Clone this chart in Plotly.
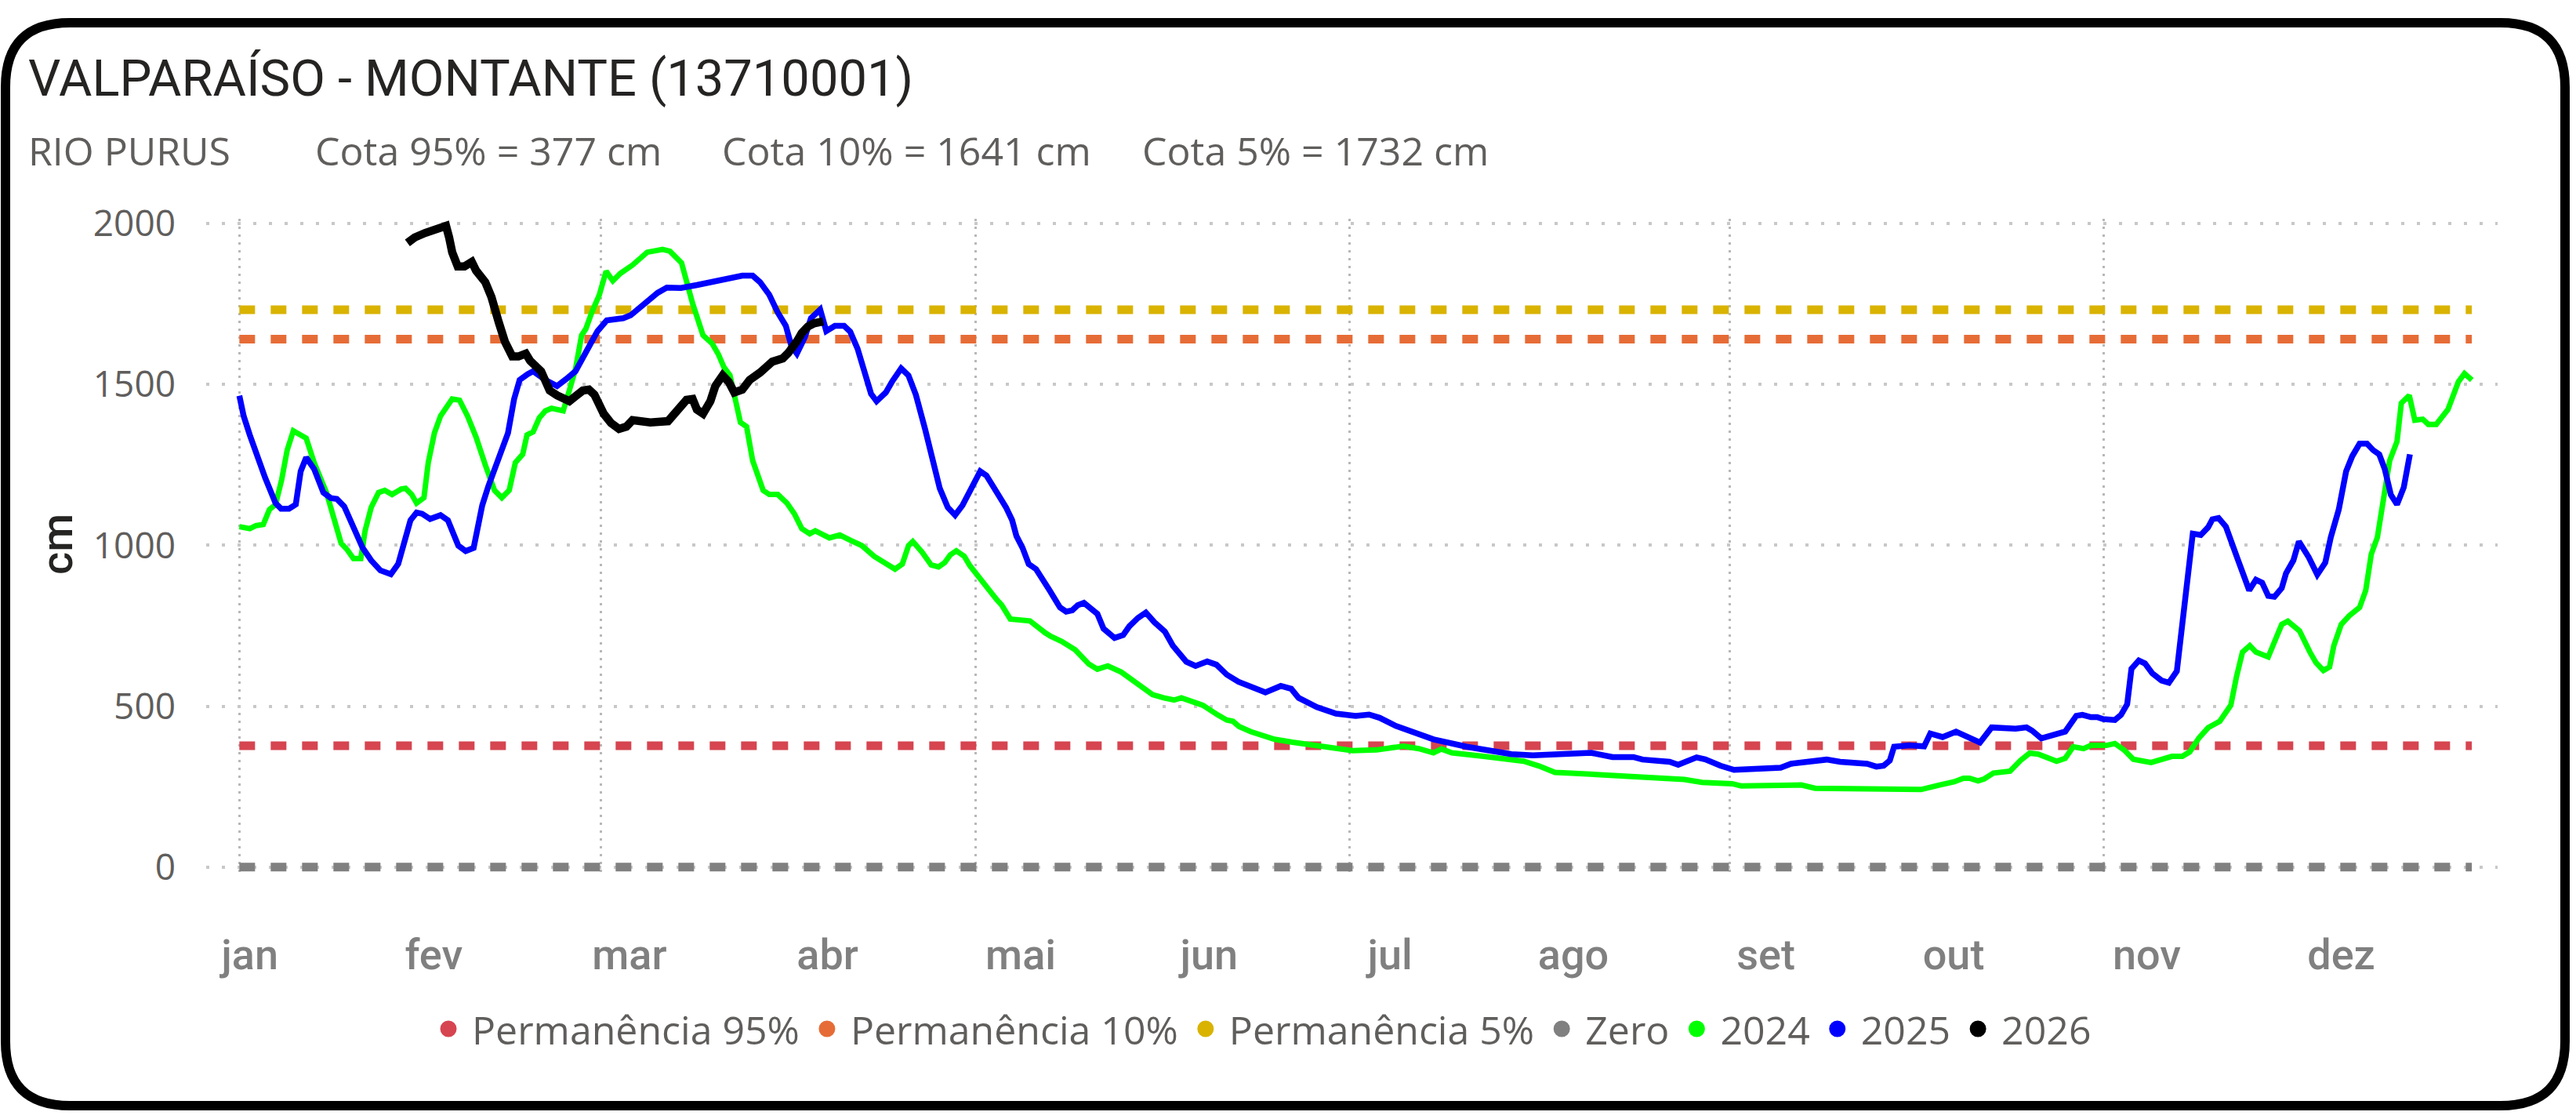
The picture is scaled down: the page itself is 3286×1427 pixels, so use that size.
import plotly.graph_objects as go

# ---------------- data ----------------
month_labels = ["jan", "fev", "mar", "abr", "mai", "jun", "jul", "ago", "set", "out", "nov", "dez"]
month_label_days = [1.7, 31.7, 63.6, 95.9, 127.4, 158.1, 187.6, 217.5, 248.9, 279.5, 311.0, 342.7]
grid_days = [0, 59, 120, 181, 243, 304]
y_ticks = [0, 500, 1000, 1500, 2000]

ref_names = ["Permanência 95%", "Permanência 10%", "Permanência 5%", "Zero"]
ref_values = [377, 1641, 1732, 0]

days_2024 = [0, 1.7, 2.7, 3.9, 4.9, 5.9, 6.9, 7.8, 8.8, 10.9, 12.2, 14.2, 15.4, 16.6, 17.6, 18.6, 19.8,
             20.5, 21.5, 22.7, 23.7, 24.9, 26.4, 27.1, 28.1, 28.9, 30.1, 30.8, 31.8, 32.8, 34.7, 35.9,
             37.2, 38.6, 40.1, 41.6, 42.8, 44.0, 45.0, 46.2, 46.9, 47.9, 48.9, 49.9, 50.9, 52.8, 53.8,
             54.8, 55.8, 56.5, 57.5, 58.7, 59.8, 60.9, 62.1, 64.1, 66.5, 69.0, 70.2, 72.1, 73.9, 75.6,
             77.1, 78.1, 79.0, 80.0, 80.7, 81.7, 82.7, 83.7, 85.4, 86.4, 87.8, 89.3, 90.5, 91.7, 93.0,
             93.9, 96.2, 97.9, 99.6, 101.5, 103.5, 105.2, 106.9, 108.1, 109.1, 109.8, 111.3, 112.8,
             114.0, 115.0, 115.9, 116.9, 118.2, 119.1, 121.6, 123.5, 124.3, 125.7, 128.9, 129.9, 131.4,
             132.3, 134.1, 136.3, 138.5, 139.9, 141.6, 143.8, 145.5, 147.3, 148.9, 150.7, 152.4, 153.6,
             155.4, 157.1, 159.5, 161.0, 162.0, 163.0, 164.9, 168.8, 171.7, 176.1, 181.5, 185.4, 186.9,
             189.4, 189.8, 192.3, 194.7, 196.0, 197.7, 202.6, 209.4, 211.9, 214.5, 217.2, 219.7, 221.9,
             224.8, 227.8, 230.7, 235.6, 238.5, 243.4, 244.9, 247.8, 252.2, 254.7, 256.9, 264.5, 266.9,
             274.2, 277.2, 279.6, 281.1, 282.1, 283.5, 284.5, 286.0, 288.7, 290.4, 291.9, 293.3, 295.0,
             296.3, 297.7, 299.0, 300.7, 301.9, 304.4, 305.8, 307.3, 308.8, 311.7, 315.1, 316.8, 318.0,
             319.5, 321.0, 322.9, 324.7, 325.6, 326.6, 327.8, 328.8, 330.8, 332.2, 333.0, 334.0, 335.9,
             337.6, 338.6, 339.8, 340.8, 341.5, 342.7, 344.0, 345.7, 346.7, 347.6, 348.6, 349.6, 350.6,
             351.8, 352.5, 353.8, 354.7, 356.0, 356.9, 358.2, 360.1, 361.8, 362.8, 364.0]
cota_2024 = [1058, 1052, 1061, 1065, 1111, 1127, 1204, 1296, 1356, 1333, 1257, 1164, 1085, 1006, 986, 959, 959,
             1045, 1118, 1164, 1171, 1158, 1175, 1177, 1158, 1131, 1148, 1257, 1349, 1402, 1455, 1451,
             1402, 1336, 1250, 1171, 1148, 1171, 1257, 1283, 1343, 1353, 1396, 1418, 1426, 1418, 1481,
             1547, 1653, 1673, 1726, 1779, 1852, 1822, 1845, 1871, 1911, 1920, 1914, 1878, 1752, 1653,
             1627, 1594, 1554, 1528, 1468, 1382, 1369, 1263, 1171, 1158, 1158, 1131, 1098, 1052, 1036,
             1045, 1023, 1032, 1016, 999, 966, 946, 926, 942, 999, 1012, 979, 939,
             933, 946, 970, 983, 966, 937, 873, 831, 814, 771, 765, 748, 728,
             717, 701, 675, 631, 615, 625, 606, 583, 554, 536, 526, 519, 526,
             516, 503, 473, 457, 453, 437, 421, 397, 388, 375, 362, 364, 368,
             371, 376, 368, 355, 367, 355, 345, 329, 314, 294, 292, 289, 285,
             282, 278, 274, 272, 263, 259, 252, 252, 256, 255, 245, 245, 241,
             241, 255, 265, 276, 276, 268, 274, 292, 298, 331, 354, 351, 338,
             329, 338, 374, 368, 378, 378, 384, 364, 335, 325, 344, 344, 358,
             401, 433, 453, 503, 589, 668, 688, 668, 653, 721, 754, 764, 734,
             668, 635, 611, 622, 688, 754, 781, 807, 860, 972, 1025, 1138, 1263,
             1323, 1442, 1466, 1389, 1392, 1376, 1376, 1422, 1508, 1534, 1514]

days_2025 = [0, 0.7, 1.7, 2.9, 4.2, 5.9, 6.8, 8.1, 9.2, 10.0, 10.9, 12.2, 13.7, 14.9, 15.9, 17.1, 18.6,
             20.1, 21.5, 23.0, 24.7, 25.9, 27.9, 28.9, 29.8, 31.1, 32.8, 34.0, 35.7, 36.9, 38.2, 39.6,
             40.6, 42.1, 43.8, 44.8, 45.7, 47.0, 47.9, 49.9, 51.8, 53.3, 54.8, 56.7, 58.4, 59.9, 62.6,
             63.8, 66.0, 68.2, 69.7, 72.0, 74.6, 77.1, 79.5, 82.0, 83.7, 84.9, 86.4, 87.8, 89.1, 90.0,
             90.9, 92.2, 93.2, 94.7, 95.7, 97.1, 98.6, 99.6, 100.8, 102.0, 103.0, 103.9, 105.4, 106.4,
             107.9, 109.1, 110.3, 111.8, 113.0, 114.2, 115.5, 116.7, 117.9, 119.1, 119.9, 120.8, 121.8,
             123.5, 125.0, 126.0, 126.7, 127.7, 128.7, 129.9, 130.9, 132.1, 133.8, 134.8, 135.8, 136.7,
             137.7, 138.9, 139.9, 140.9, 142.7, 144.1, 145.1, 146.5, 147.8, 149.2, 150.9, 152.2, 154.4,
             155.9, 157.8, 159.3, 161.0, 162.9, 165.4, 167.3, 169.8, 171.5, 172.7, 175.7, 178.8, 182.0,
             184.2, 185.9, 188.4, 191.3, 194.7, 200.1, 207.4, 210.9, 214.8, 216.7, 218.7, 220.4, 223.9,
             227.3, 228.8, 233.2, 234.6, 237.6, 239.0, 240.0, 241.5, 243.7, 245.9, 247.8, 251.3, 253.0,
             257.6, 258.8, 261.0, 265.4, 266.9, 268.1, 269.1, 269.8, 272.3, 274.7, 275.7, 277.7, 279.9,
             280.8, 282.1, 283.8, 285.7, 287.7, 289.6, 291.4, 292.3, 293.8, 297.7, 299.5, 300.5, 301.9,
             302.9, 303.9, 305.8, 306.8, 307.8, 308.5, 309.7, 310.7, 311.9, 313.4, 314.6, 315.9, 316.6,
             317.6, 318.5, 319.8, 321.0, 321.7, 322.7, 323.9, 324.9, 325.9, 327.7, 328.8, 329.8, 330.8,
             331.8, 333.0, 333.7, 334.9, 335.8, 337.4, 338.8, 340.1, 341.0, 342.3, 343.5, 344.5, 345.7,
             346.9, 347.9, 348.9, 349.8, 350.8, 351.8, 352.9, 353.9]
cota_2025 = [1465, 1402, 1343, 1276, 1210, 1131, 1114, 1114, 1127, 1230, 1273, 1237, 1164, 1147, 1144, 1121, 1058,
             992, 953, 922, 910, 942, 1078, 1102, 1098, 1082, 1094, 1078, 999, 982, 992, 1124,
             1184, 1257, 1349, 1455, 1514, 1532, 1541, 1514, 1495, 1517, 1541, 1607, 1666, 1699, 1706,
             1715, 1752, 1785, 1801, 1800, 1809, 1818, 1829, 1838, 1838, 1818, 1779, 1723, 1682, 1620,
             1596, 1647, 1706, 1733, 1666, 1682, 1682, 1664, 1611, 1528, 1471, 1448, 1475, 1508,
             1550, 1528, 1468, 1362, 1276, 1177, 1118, 1094, 1124, 1171, 1204, 1230, 1217,
             1164, 1118, 1078, 1029, 992, 942, 926, 893, 860, 807, 794, 798, 814,
             821, 803, 787, 741, 712, 721, 748, 774, 791, 761, 732, 688, 638,
             625, 639, 629, 598, 576, 556, 543, 563, 554, 526, 497, 477, 470,
             474, 464, 440, 421, 397, 374, 351, 347, 350, 349, 355, 355, 342,
             342, 334, 327, 318, 341, 335, 325, 315, 302, 304, 309, 309, 321,
             329, 334, 327, 321, 312, 315, 331, 374, 378, 375, 415, 404, 421,
             413, 398, 387, 434, 430, 430, 434, 424, 400, 421, 470, 473, 466,
             466, 460, 457, 473, 506, 616, 642, 633, 602, 580, 573, 609, 715,
             873, 1036, 1032, 1056, 1081, 1085, 1058, 999, 953, 860, 893, 884, 843,
             840, 867, 913, 953, 1012, 963, 909, 946, 1025, 1111, 1230, 1277, 1316,
             1316, 1296, 1283, 1237, 1157, 1127, 1180, 1283]

days_2026 = [27.4, 28.6, 30.3, 32.3, 33.7, 34.2, 34.7, 35.6, 36.7, 37.9, 38.6, 40.1, 41.1, 42.3, 43.3,
             44.5, 45.5, 46.7, 47.4, 49.2, 50.6, 51.8, 53.8, 55.0, 56.0, 57.0, 57.9, 59.4, 60.6, 61.9,
             63.1, 64.1, 67.0, 69.9, 71.4, 72.9, 73.9, 74.6, 75.6, 76.8, 77.6, 78.8, 79.8, 80.7, 82.0,
             83.2, 84.9, 85.9, 86.9, 88.6, 89.5, 91.0, 91.7, 92.7, 93.7, 95.2]
cota_2026 = [1940, 1957, 1971, 1986, 1993, 1957, 1911, 1867, 1867, 1881, 1854, 1818, 1772, 1693, 1633,
             1587, 1587, 1596, 1574, 1541, 1481, 1466, 1448, 1466, 1481, 1484, 1468, 1409, 1380, 1362,
             1369, 1389, 1382, 1386, 1422, 1452, 1455, 1422, 1409, 1448, 1495, 1528, 1508, 1475, 1484,
             1514, 1537, 1558, 1571, 1581, 1598, 1637, 1660, 1680, 1690, 1696]

# ---------------- styling ----------------
W, H = 3286, 1427
ML, MR, MT, MB = 263, 100, 279, 309
PW, PH = W - ML - MR, H - MT - MB
X_RANGE = [-5.41, 368.2]
Y_RANGE = [-30, 2015]


def px(x):
    return (x - ML) / PW


def py(y):
    return (H - MB - y) / PH


ref_colors = ["#D64550", "#E66C37", "#D9B300", "#808080"]
year_colors = {"2024": "#00FF00", "2025": "#0000FF", "2026": "#000000"}
year_widths = {"2024": 7, "2025": 7.5, "2026": 10.5}
TXT = "#605E5C"
SEGOE = "Open Sans, Noto Sans, sans-serif"
DIN = "Roboto, Lato, sans-serif"

fig = go.Figure()

span = [days_2024[0], days_2024[-1]]
for name, val, col in zip(ref_names, ref_values, ref_colors):
    fig.add_trace(go.Scatter(x=span, y=[val, val], mode="lines", name=name, legendgroup=name,
                             showlegend=False, hoverinfo="skip",
                             line=dict(color=col, width=11, dash="20px,20px")))

series = [("2024", days_2024, cota_2024), ("2025", days_2025, cota_2025), ("2026", days_2026, cota_2026)]
for name, xs, ys in series:
    fig.add_trace(go.Scatter(x=xs, y=ys, mode="lines", name=name, legendgroup=name, showlegend=False,
                             line=dict(color=year_colors[name], width=year_widths[name])))

# legend entries (circle markers like the original)
for name, col in list(zip(ref_names, ref_colors)) + [(k, v) for k, v in year_colors.items()]:
    fig.add_trace(go.Scatter(x=[None], y=[None], mode="markers", name=name, legendgroup=name,
                             marker=dict(color=col, size=16, symbol="circle",
                                         line=dict(color=col, width=5))))

fig.update_layout(
    width=W, height=H, autosize=False,
    margin=dict(l=ML, r=MR, t=MT, b=MB, pad=0),
    paper_bgcolor="white", plot_bgcolor="white",
    showlegend=True,
    legend=dict(orientation="h", x=px(542), xanchor="left", y=py(1312), yanchor="middle",
                font=dict(family=SEGOE, size=50, color=TXT), bgcolor="rgba(0,0,0,0)",
                itemsizing="trace", itemwidth=50),
    xaxis=dict(range=X_RANGE, showgrid=False, zeroline=False, showline=False,
               tickmode="array", tickvals=month_label_days, ticktext=month_labels, ticks="",
               ticklabelstandoff=63,
               tickfont=dict(family=DIN, size=54, color="#808080", weight=500),
               minor=dict(tickmode="array", tickvals=grid_days, showgrid=True, ticks="",
                          gridcolor="#B8B8B8", gridwidth=3, griddash="3px,7px")),
    yaxis=dict(range=Y_RANGE, tickmode="array", tickvals=y_ticks, ticks="",
               showgrid=True, gridcolor="#C8C8C8", gridwidth=4, griddash="4px,16px",
               zeroline=False, showline=False, ticklabelstandoff=38,
               tickfont=dict(family=SEGOE, size=46, color=TXT)),
)

# titles
fig.add_annotation(text="VALPARAÍSO - MONTANTE (13710001)", xref="paper", yref="paper",
                   x=px(34), y=py(100), xanchor="left", yanchor="middle", showarrow=False,
                   font=dict(family=DIN, size=65, color="#252423"))
for txt, xl in [("RIO PURUS", 34), ("Cota 95% = 377 cm", 400), ("Cota 10% = 1641 cm", 919),
                ("Cota 5% = 1732 cm", 1455)]:
    fig.add_annotation(text=txt, xref="paper", yref="paper", x=px(xl), y=py(192), xanchor="left",
                       yanchor="middle", showarrow=False, font=dict(family=SEGOE, size=50, color=TXT))
fig.add_annotation(text="cm", xref="paper", yref="paper", x=px(73), y=py(694), xanchor="center",
                   yanchor="middle", textangle=-90, showarrow=False,
                   font=dict(family=DIN, size=56, color="#252423", weight=500))

# rounded frame
x0, y0, x1, y1, rad = 7, 29, 3272, 1410, 82


def P(x, y):
    return f"{px(x):.5f},{py(y):.5f}"


path = (f"M {P(x0 + rad, y0)} L {P(x1 - rad, y0)} Q {P(x1, y0)} {P(x1, y0 + rad)} "
        f"L {P(x1, y1 - rad)} Q {P(x1, y1)} {P(x1 - rad, y1)} L {P(x0 + rad, y1)} "
        f"Q {P(x0, y1)} {P(x0, y1 - rad)} L {P(x0, y0 + rad)} Q {P(x0, y0)} {P(x0 + rad, y0)} Z")
fig.add_shape(type="path", path=path, xref="paper", yref="paper",
              line=dict(color="black", width=12), fillcolor="rgba(0,0,0,0)", layer="above")

fig.write_html("out.html", include_plotlyjs=True, config={"displayModeBar": False},
               post_script="document.body.style.margin='0';document.body.style.overflow='hidden';")
